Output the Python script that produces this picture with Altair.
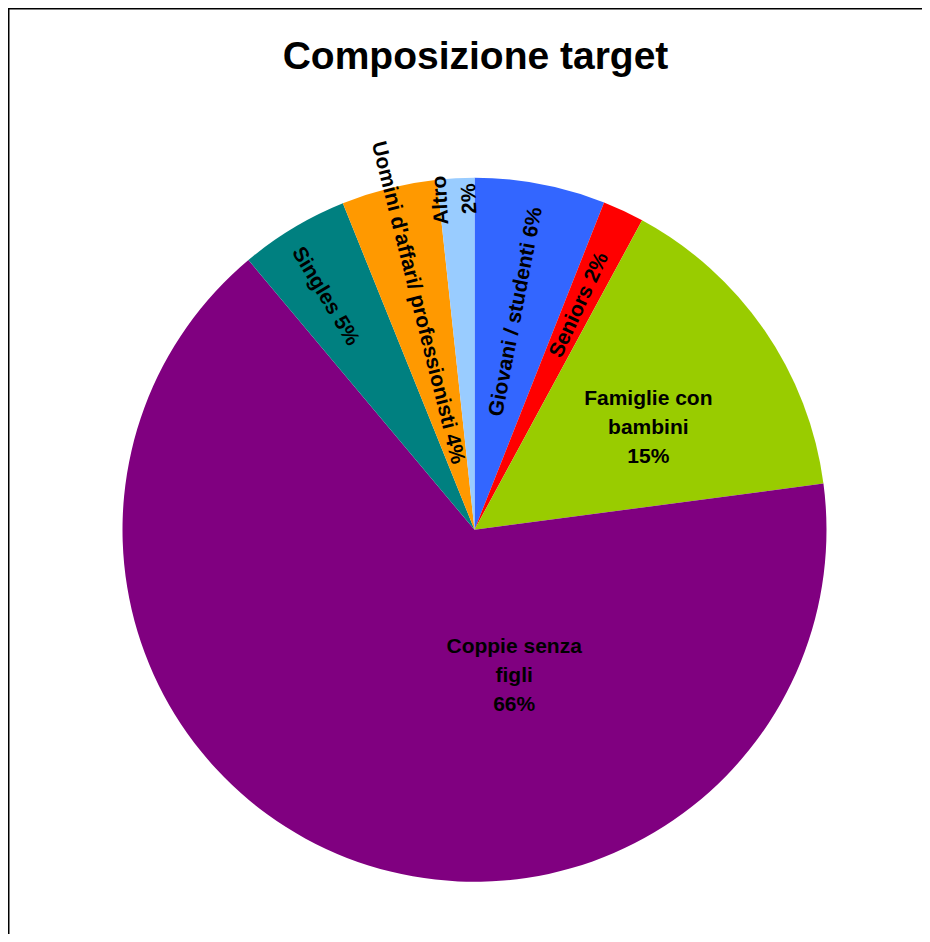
import math
import altair as alt
import pandas as pd

# ---- data ----
categories = ["Giovani / studenti", "Seniors", "Famiglie con bambini",
              "Coppie senza figli", "Singles", "Uomini d'affari/ professionisti", "Altro"]
values = [6.0, 1.9, 15.0, 66.0, 5.0, 4.4, 1.7]
colors = ["#3366FF", "#FF0000", "#99CC00", "#800080", "#008080", "#FF9900", "#99CCFF"]
labels = ["Giovani / studenti 6%", "Seniors 2%", "Famiglie con\nbambini\n15%",
          "Coppie senza\nfigli\n66%", "Singles 5%",
          "Uomini d'affari/ professionisti 4%", "Altro\n2%"]
title_text = "Composizione target"

df = pd.DataFrame({
    "idx": list(range(len(categories))),
    "category": categories,
    "value": values,
    "label": labels,
})
total = sum(values)

W, H = 914, 926
CX, CY = 466.5, 521.8
R = 352
FONT = "Liberation Sans"
FS = 21

theta_scale = alt.Scale(domain=[0, total], range=[0, 2 * math.pi])

base = (
    alt.Chart(df)
    .transform_window(cum="sum(value)", sort=[alt.SortField("idx")], frame=[None, 0])
    .transform_calculate(mid="datum.cum - datum.value / 2")
    .transform_calculate(deg=f"360 * datum.mid / {total}")
    .transform_calculate(
        up="(datum.deg + 270) % 360",
        down="(datum.deg + 90) % 360",
    )
)

pie = alt.Chart(df).mark_arc(outerRadius=R).encode(
    theta=alt.Theta("value:Q", stack=True, scale=theta_scale),
    color=alt.Color("category:N", scale=alt.Scale(domain=categories, range=colors), legend=None),
    order=alt.Order("idx:Q"),
    x=alt.value(CX),
    y=alt.value(CY),
)


def label_layer(i, radius, angle_field=None, dx=0, dy=0):
    mark = dict(radius=radius, font=FONT, fontSize=FS, fontWeight="bold", color="black",
                align="center", baseline="middle", lineBreak="\n", lineHeight=29)
    if dx:
        mark["dx"] = dx
    if dy:
        mark["dy"] = dy
    enc = dict(
        theta=alt.Theta("mid:Q", scale=theta_scale),
        text=alt.Text("label:N"),
        x=alt.value(CX),
        y=alt.value(CY),
    )
    if angle_field:
        enc["angle"] = alt.Angle(f"{angle_field}:Q", scale=None)
    return base.transform_filter(f"datum.idx == {i}").mark_text(**mark).encode(**enc)


labels_layers = [
    label_layer(0, 222, "up"),
    label_layer(1, 248, "up"),
    label_layer(2, 205, None, dx=5, dy=-15),
    label_layer(3, 150, None, dx=94, dy=-23),
    label_layer(4, 277, "down", dy=8),
    label_layer(5, 234, "down"),
    label_layer(6, 331, "up", dy=-16),
]

one = alt.Data(values=[{"k": 1}])
title = alt.Chart(one).mark_text(
    text=title_text, font=FONT, fontSize=39, fontWeight="bold", color="black",
    align="center", baseline="alphabetic",
).encode(x=alt.value(467.5), y=alt.value(61))

frame_left = alt.Chart(one).mark_rule(color="black", strokeWidth=2).encode(
    x=alt.value(0.5), y=alt.value(0), y2=alt.value(H))
frame_top = alt.Chart(one).mark_rule(color="black", strokeWidth=2).encode(
    y=alt.value(0.5), x=alt.value(0), x2=alt.value(W))

chart = alt.layer(pie, *labels_layers, title, frame_left, frame_top).properties(
    width=W, height=H,
    autosize=alt.AutoSizeParams(type="none"),
    padding=0,
).configure_view(stroke=None)

chart.save("out.html", embed_options={"renderer": "svg", "actions": False})
